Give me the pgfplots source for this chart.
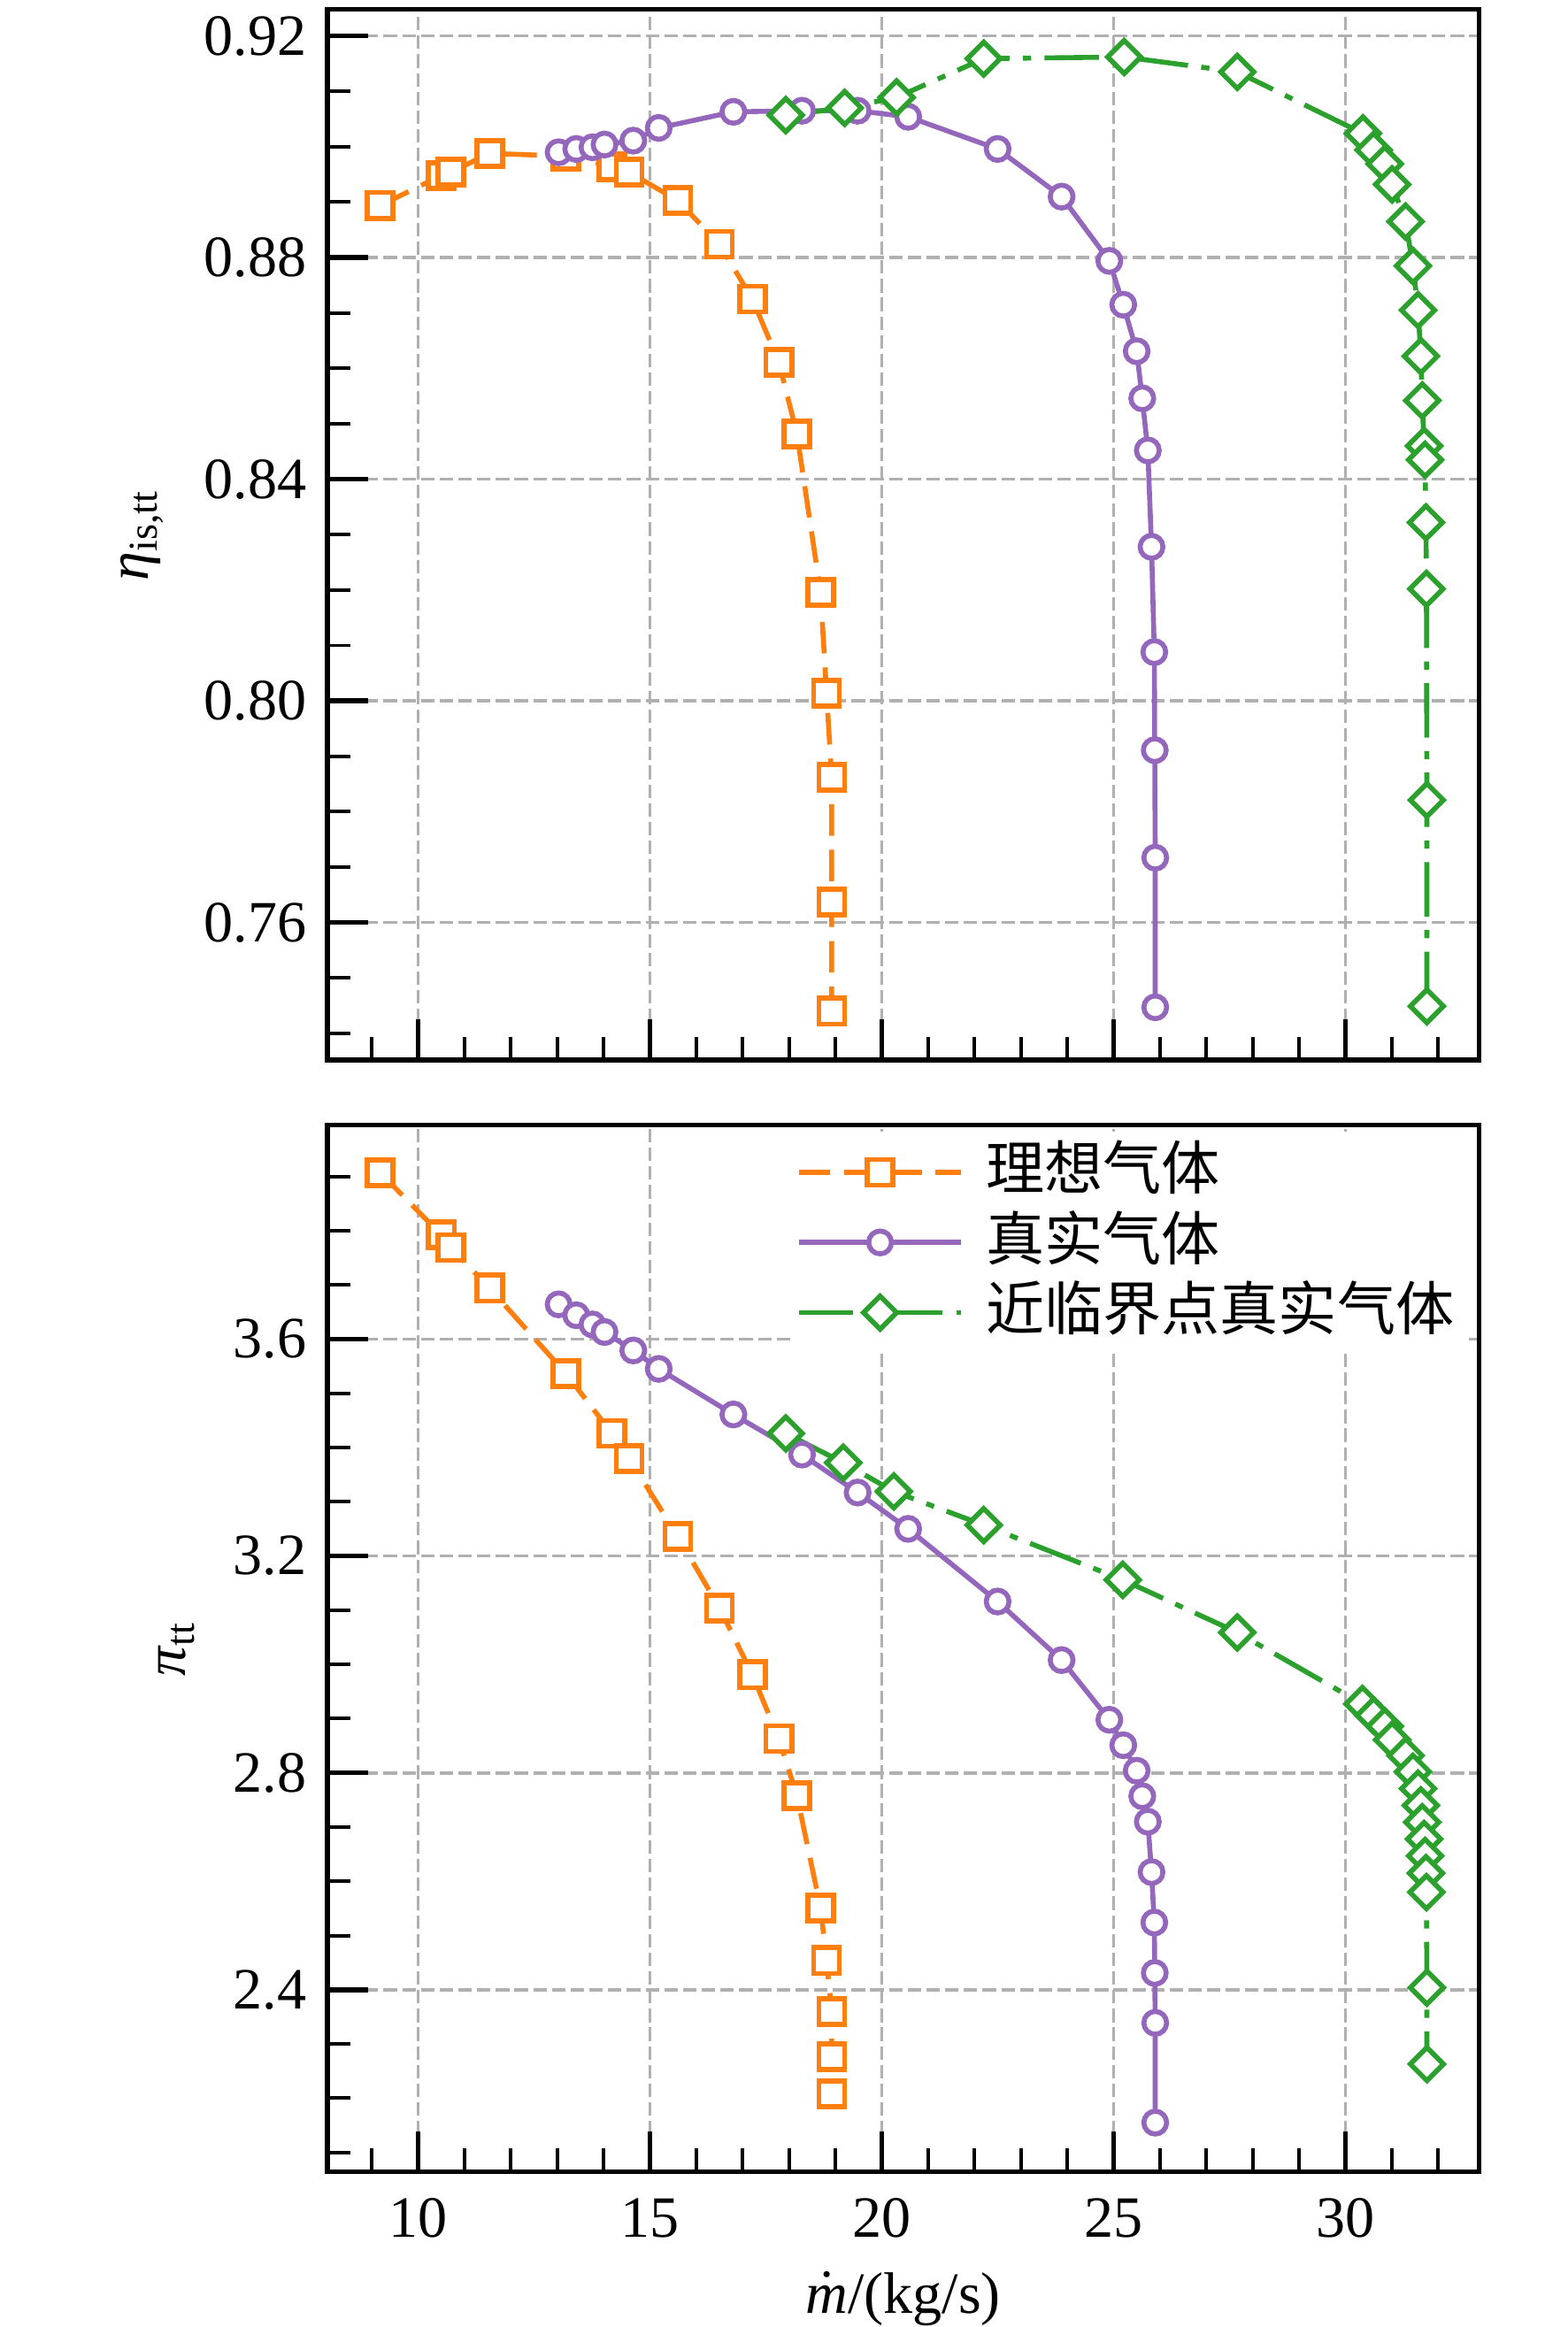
\documentclass[border=0pt]{standalone}
\usepackage{fontspec}
\setmainfont{Liberation Serif}
\newfontfamily\cjk{Noto Sans CJK SC}
\usepackage{pgfplots}
\pgfplotsset{compat=1.18}
\definecolor{c1}{HTML}{FF7F0E}
\definecolor{c2}{HTML}{9467BD}
\definecolor{c3}{HTML}{2CA02C}
\definecolor{gridc}{HTML}{B0B0B0}
\pgfplotsset{
  base/.style={
    scale only axis, width=196.9pt,
    xmin=8.04, xmax=32.89,
    xtick={10,15,20,25,30},
    minor xtick={9,11,12,13,14,16,17,18,19,21,22,23,24,26,27,28,29,31,32},
    tick pos=left, tick align=inside,
    major tick length=7pt, minor tick length=4pt,
    major tick style={line width=0.8pt, black},
    minor tick style={line width=0.6pt, black},
    axis line style={line width=0.8pt},
    grid=major,
    major grid style={gridc, line width=0.55pt, dash pattern=on 2.3pt off 0.9pt},
    /pgf/number format/assume math mode=true,
    ticklabel style={font=\normalsize},
    label style={font=\normalsize},
  },
  s1/.style={c1, line width=0.85pt, dash pattern=on 5.4pt off 2.4pt, mark=square*, mark size=2.2pt, mark options={solid, fill=white, draw=c1}},
  s2/.style={c2, line width=0.85pt, solid, mark=*, mark size=1.95pt, mark options={solid, fill=white, draw=c2}},
  s3/.style={c3, line width=0.85pt, dash pattern=on 9.3pt off 2.3pt on 1.4pt off 2.3pt, mark=square*, mark size=2.0pt, mark options={solid, fill=white, draw=c3, rotate=45}},
}
\begin{document}
\begin{tikzpicture}
\useasboundingbox (0,0) rectangle (268pt,397.8pt);
% ---------- top panel ----------
\begin{axis}[base,
  at={(55.95pt,216.6pt)}, anchor=south west,
  height=179.6pt,
  ymin=0.7352, ymax=0.9248,
  xticklabels={},
  ytick={0.76,0.80,0.84,0.88,0.92},
  minor ytick={0.74,0.75,0.77,0.78,0.79,0.81,0.82,0.83,0.85,0.86,0.87,0.89,0.90,0.91},
  yticklabel style={/pgf/number format/.cd, fixed, fixed zerofill, precision=2},
  ylabel={\textit{η}\textsubscript{is,tt}},
  ylabel style={at={(axis description cs:-0.161,0.5)}, anchor=center},
]
\addplot[s1] coordinates {
(9.18,0.8894) (10.50,0.8948) (10.70,0.8954) (11.54,0.8988) (13.19,0.8983)
(14.18,0.8964) (14.55,0.8954) (15.60,0.8903) (16.50,0.8824) (17.21,0.8725)
(17.78,0.8611) (18.17,0.8482) (18.68,0.8196) (18.81,0.8014) (18.92,0.7862)
(18.92,0.7637) (18.92,0.7440)};
\addplot[s2] coordinates {
(13.03,0.8990) (13.41,0.8996) (13.76,0.8999) (14.02,0.9004) (14.64,0.9011)
(15.19,0.9034) (16.80,0.9063) (18.28,0.9065) (19.48,0.9065) (20.57,0.9054)
(22.50,0.8996) (23.88,0.8910) (24.91,0.8794) (25.21,0.8715) (25.50,0.8631)
(25.62,0.8546) (25.74,0.8452) (25.82,0.8278) (25.88,0.8088) (25.89,0.7911)
(25.90,0.7717) (25.90,0.7447)};
\addplot[s3] coordinates {
(17.93,0.9057) (19.20,0.9070) (20.32,0.9089) (22.20,0.9159) (25.23,0.9162)
(27.67,0.9135) (30.38,0.9024) (30.61,0.8994) (30.85,0.8969) (31.01,0.8932)
(31.30,0.8865) (31.46,0.8785) (31.57,0.8705) (31.63,0.8622) (31.66,0.8542)
(31.70,0.8460) (31.72,0.8435) (31.74,0.8322) (31.75,0.8202) (31.76,0.7821)
(31.76,0.7449)};
\end{axis}
% ---------- bottom panel ----------
\begin{axis}[base,
  at={(55.95pt,26.5pt)}, anchor=south west,
  height=179.0pt,
  ymin=2.064, ymax=3.995,
  ytick={2.4,2.8,3.2,3.6},
  minor ytick={2.1,2.2,2.3,2.5,2.6,2.7,2.9,3.0,3.1,3.3,3.4,3.5,3.7,3.8,3.9},
  yticklabel style={/pgf/number format/.cd, fixed, fixed zerofill, precision=1},
  xticklabel style={yshift=-1pt},
  ylabel={\textit{π}\textsubscript{tt}},
  ylabel style={at={(axis description cs:-0.131,0.5)}, anchor=center},
  xlabel={$\dot{\mbox{\itshape m}}$/(kg/s)},
  xlabel style={at={(axis description cs:0.5,-0.121)}, anchor=center},
  legend style={at={(axis description cs:0.401,0.995)}, anchor=north west,
    draw=none, fill=white, inner xsep=1pt, inner ysep=1pt, row sep=0pt,
    column sep=2.8pt,
    nodes={inner sep=1pt, text height=8pt, text depth=2pt},
    font=\cjk, cells={anchor=west}},
  legend image code/.code={\draw[mark repeat=2, mark phase=2] plot coordinates {(0pt,0pt) (13.9pt,0pt) (27.8pt,0pt)};},
]
\addplot[s1] coordinates {
(9.18,3.907) (10.50,3.792) (10.70,3.769) (11.54,3.694) (13.19,3.536)
(14.18,3.426) (14.55,3.380) (15.60,3.236) (16.50,3.104) (17.21,2.981)
(17.78,2.863) (18.17,2.758) (18.68,2.551) (18.81,2.454) (18.92,2.360)
(18.92,2.277) (18.92,2.208)};
\addlegendentry{理想气体}
\addplot[s2] coordinates {
(13.03,3.664) (13.41,3.644) (13.76,3.627) (14.02,3.613) (14.64,3.579)
(15.19,3.545) (16.80,3.461) (18.28,3.387) (19.48,3.317) (20.57,3.250)
(22.50,3.116) (23.88,3.008) (24.91,2.898) (25.21,2.851) (25.50,2.804)
(25.62,2.757) (25.74,2.710) (25.82,2.617) (25.88,2.524) (25.89,2.431)
(25.90,2.339) (25.90,2.155)};
\addlegendentry{真实气体}
\addplot[s3] coordinates {
(17.93,3.426) (19.17,3.372) (20.26,3.319) (22.20,3.257) (25.20,3.156)
(27.67,3.059) (30.37,2.927) (30.61,2.906) (30.85,2.886) (31.01,2.861)
(31.30,2.832) (31.46,2.802) (31.57,2.771) (31.63,2.740) (31.66,2.709)
(31.70,2.678) (31.72,2.647) (31.74,2.615) (31.75,2.580) (31.76,2.404)
(31.76,2.263)};
\addlegendentry{近临界点真实气体}
\end{axis}
\end{tikzpicture}
\end{document}
